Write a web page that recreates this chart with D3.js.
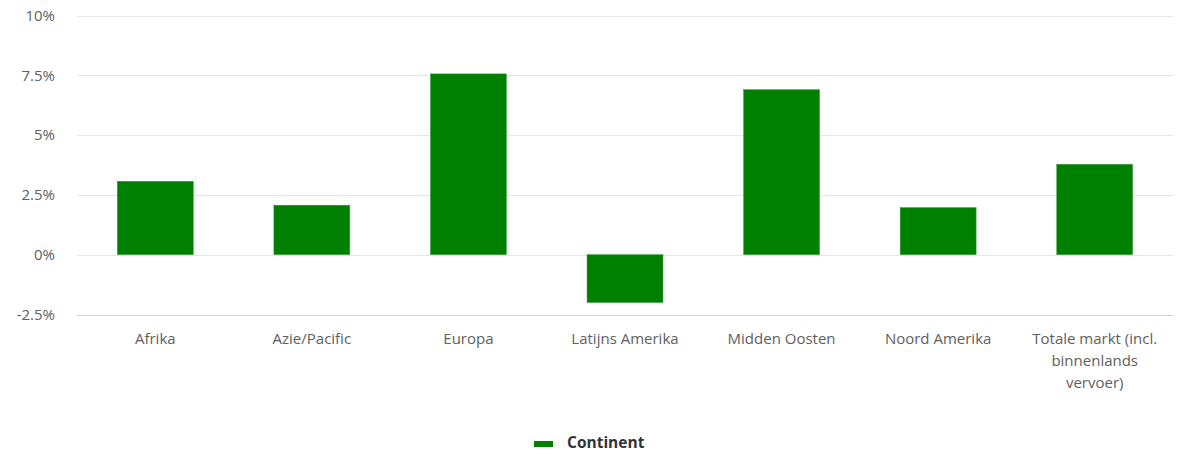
<!DOCTYPE html>
<html>
<head>
<meta charset="utf-8">
<script src="https://cdn.jsdelivr.net/npm/d3@7"></script>
<style>
  html, body { margin: 0; padding: 0; background: #fff; }
  svg { display: block; font-family: "Open Sans", sans-serif; }
</style>
</head>
<body>
<svg id="chart" width="1179" height="454"></svg>
<script>
const categories = ["Afrika", "Azie/Pacific", "Europa", "Latijns Amerika", "Midden Oosten", "Noord Amerika", "Totale markt (incl. binnenlands vervoer)"];
const categoryLines = [["Afrika"], ["Azie/Pacific"], ["Europa"], ["Latijns Amerika"], ["Midden Oosten"], ["Noord Amerika"], ["Totale markt (incl.", "binnenlands", "vervoer)"]];
const values = [3.07, 2.07, 7.56, -2.0, 6.9, 1.97, 3.78];
const yTicks = [-2.5, 0, 2.5, 5, 7.5, 10];
const yTickLabels = ["-2.5%", "0%", "2.5%", "5%", "7.5%", "10%"];
const seriesName = "Continent";

(function () {
const svg = d3.select("#chart");
const pLeft = 77, pRight = 1173, pTop = 15.5, pBottom = 314.5;

const x = d3.scaleBand().domain(categories).range([pLeft, pRight]).paddingInner(0.515).paddingOuter(0.2575);
const y = d3.scaleLinear().domain([-2.5, 10]).range([pBottom, pTop]);

// gridlines
svg.append("g").selectAll("line").data(yTicks.filter(t => t !== -2.5)).join("line")
  .attr("x1", pLeft).attr("x2", pRight)
  .attr("y1", d => Math.round(y(d)) + 0.5).attr("y2", d => Math.round(y(d)) + 0.5)
  .attr("stroke", "#e6e6e6").attr("stroke-width", 1);

// y axis labels
const yAxis = d3.axisLeft(y).tickValues(yTicks).tickSize(0).tickPadding(0)
  .tickFormat((d, i) => yTickLabels[i]);
const yg = svg.append("g").attr("transform", `translate(55,0)`).call(yAxis);
yg.select(".domain").remove();
yg.selectAll("text").attr("fill", "#606060").attr("font-size", 15).attr("font-family", "Open Sans, sans-serif");

// bars
svg.append("g").selectAll("rect").data(values).join("rect")
  .attr("x", (d, i) => x(categories[i]))
  .attr("width", x.bandwidth())
  .attr("y", d => y(Math.max(0, d)))
  .attr("height", d => Math.abs(y(d) - y(0)))
  .attr("fill", "#008000")
  .attr("stroke", "#3a9a3a").attr("stroke-width", 0.5);

// x axis line
svg.append("line").attr("x1", pLeft).attr("x2", pRight)
  .attr("y1", Math.round(y(-2.5)) + 0.5).attr("y2", Math.round(y(-2.5)) + 0.5)
  .attr("stroke", "#ccd6eb").attr("stroke-width", 1);

// x labels
const xl = svg.append("g");
categories.forEach((c, i) => {
  const cx = x(c) + x.bandwidth() / 2;
  const t = xl.append("text")
    .attr("x", cx)
    .attr("y", 344)
    .attr("text-anchor", "middle")
    .attr("fill", "#606060").attr("font-size", 15);
  categoryLines[i].forEach((ln, j) => {
    t.append("tspan").attr("x", cx).attr("dy", j === 0 ? 0 : 22).text(ln);
  });
});

// legend
const lg = svg.append("g");
lg.append("rect").attr("x", 534).attr("y", 441).attr("width", 19).attr("height", 6).attr("fill", "#008000");
lg.append("text").attr("x", 567).attr("y", 444).attr("dominant-baseline", "middle")
  .attr("fill", "#333").attr("font-size", 15.5).attr("font-weight", "bold").text(seriesName);
})();
</script>
</body>
</html>
